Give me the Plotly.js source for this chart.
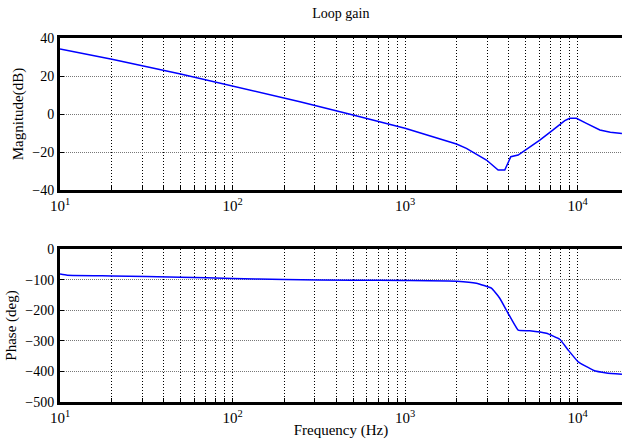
<!DOCTYPE html>
<html><head><meta charset="utf-8">
<script src="https://cdn.plot.ly/plotly-3.0.1.min.js"></script>
<style>html,body{margin:0;padding:0;background:#fff}#c{width:622px;height:444px}</style>
</head><body><div id="c"></div>
<script>
// Magnitude response
const magFreq = [10, 20, 50, 100, 200, 246, 500, 1000, 1988, 2270, 2966, 3467, 3788, 4105, 4528, 5063, 6046, 7220, 8440, 9020, 9860, 11270, 13480, 15500, 18100];
const magDb   = [34.2, 28.8, 21.0, 14.7, 8.6, 6.5, -0.5, -7.5, -15.8, -18.1, -24.2, -29.5, -29.5, -22.5, -21.6, -18.6, -13.7, -8.4, -3.5, -2.3, -2.3, -4.9, -8.4, -9.6, -10.2];
// Phase response
const phFreq = [10, 11, 20, 50, 100, 200, 500, 1000, 2000, 2594, 3170, 3543, 3960, 4528, 5287, 6607, 7893, 8825, 10090, 12330, 14730, 18100];
const phDeg  = [-82, -86, -88, -92, -96, -100, -102, -103, -105, -111.6, -128, -161, -210, -265, -267, -275.6, -295, -330, -368.7, -396, -405, -409];
const decadeVals = [10, 100, 1000, 10000];
const decadeText = ['10<sup>1</sup>', '10<sup>2</sup>', '10<sup>3</sup>', '10<sup>4</sup>'];
const magTicks = [-40, -20, 0, 20, 40];
const phTicks = [-500, -400, -300, -200, -100, 0];

const xv = [], xt = [];
for (const d of [10, 100, 1000, 10000]) {
  for (let m = 1; m <= 9; m++) {
    const v = d * m; if (v > 20000) break;
    xv.push(v);
    const i = decadeVals.indexOf(v);
    xt.push(i >= 0 ? decadeText[i] : '');
  }
}
const serif = 'Liberation Serif';
const xbase = {
  type: 'log', range: [1, 4.258], tickmode: 'array', tickvals: xv, ticktext: xt,
  showgrid: true, gridcolor: '#000', griddash: '1px,2px', gridwidth: 1,
  showline: true, linecolor: '#000', linewidth: 3, mirror: true,
  ticks: 'inside', ticklen: 4, tickcolor: '#000', zeroline: false,
  tickfont: {family: serif, size: 15, color: '#000'}
};
const ybase = {
  showgrid: true, gridcolor: '#777', griddash: '1px,1px', gridwidth: 1,
  showline: true, linecolor: '#000', linewidth: 3, mirror: true,
  ticks: 'inside', ticklen: 4, tickcolor: '#000', zeroline: false,
  tickfont: {family: serif, size: 14, color: '#000'}, ticklabelstandoff: 0
};
const data = [
  {x: magFreq, y: magDb, xaxis: 'x', yaxis: 'y', mode: 'lines', line: {color: '#0000ff', width: 1.5}},
  {x: phFreq, y: phDeg, xaxis: 'x2', yaxis: 'y2', mode: 'lines', line: {color: '#0000ff', width: 1.5, shape: 'spline', smoothing: 0.3}}
];
const layout = {
  width: 622, height: 444, showlegend: false,
  font: {family: serif, color: '#000'},
  margin: {l: 60, r: 0, t: 38, b: 42},
  paper_bgcolor: '#fff', plot_bgcolor: '#fff',
  title: {text: 'Loop gain', font: {family: serif, size: 14, color: '#000'}, x: 0.548, xanchor: 'center', y: 0.97, yanchor: 'middle'},
  xaxis: Object.assign({}, xbase, {domain: [0, 1], anchor: 'y'}),
  yaxis: Object.assign({}, ybase, {domain: [0.5824, 1], range: [-40, 40], tickvals: magTicks, anchor: 'x',
    title: {text: 'Magnitude(dB)', font: {family: serif, size: 15, color: '#000'}, standoff: 6}}),
  xaxis2: Object.assign({}, xbase, {domain: [0, 1], anchor: 'y2',
    title: {text: 'Frequency (Hz)', font: {family: serif, size: 15, color: '#000'}, standoff: 0}}),
  yaxis2: Object.assign({}, ybase, {domain: [0, 0.4203], range: [-500, 0], tickvals: phTicks, anchor: 'x2',
    title: {text: 'Phase (deg)', font: {family: serif, size: 15, color: '#000'}, standoff: 6}})
};
Plotly.newPlot('c', data, layout, {displayModeBar: false, staticPlot: true});
</script></body></html>
